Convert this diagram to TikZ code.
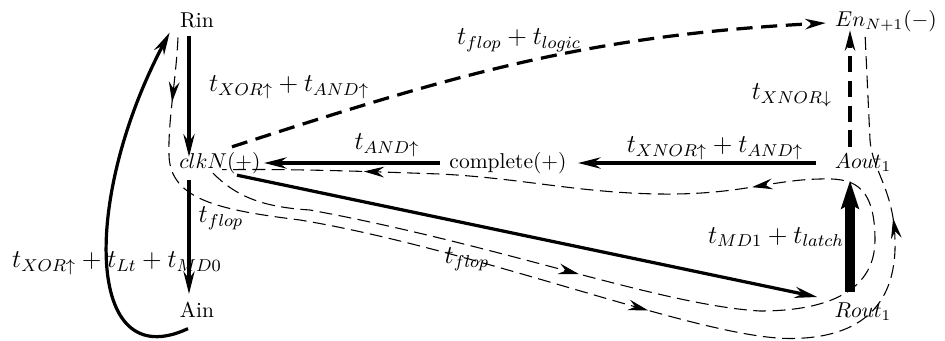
\documentclass[tikz,border=0pt]{standalone}
\usetikzlibrary{arrows.meta,decorations.markings}
\tikzset{
  >={Stealth[length=9.5pt,width=5pt,inset=3.3pt]},
  sig/.style={inner sep=0pt},
  delay/.style={inner sep=0pt,font=\large},
  hard/.style={line width=1.5pt,-{Stealth[length=10.5pt,width=5.2pt,inset=3.5pt]}},
  heavy/.style={line width=5pt,-{Stealth[length=13pt,width=8pt,inset=2pt]}},
  enable/.style={line width=1.5pt,dash pattern=on 7.5pt off 4pt,-{Stealth[length=9.5pt,width=4.8pt,inset=3pt]}},
  trace/.style={line width=0.5pt,dash pattern=on 6pt off 3pt},
  flowarrow/.style={postaction={decorate,decoration={markings,mark=at position #1 with {\arrow{>}}}}}
}
\begin{document}
\begin{tikzpicture}[x=0.465pt,y=0.465pt]
\useasboundingbox (0,0) rectangle (945,340);
% signals
\node[sig] (Rin) at (197,320) {Rin};
\node[sig] (clk) at (220,177) {$clkN(+)$};
\node[sig] (Ain) at (197,30) {Ain};
\node[sig] (done) at (508,177) {complete(+)};
\node[sig] (Aout) at (863,177) {$Aout_1$};
\node[sig] (Rout) at (863,28) {$Rout_1$};
\node[sig] (En) at (886,319) {$En_{N+1}(-)$};
% waypoints of the two traced cycles
\coordinate (o1) at (169,185);
\coordinate (o2) at (300,120);
\coordinate (o3) at (790,1.5);
\coordinate (o4) at (895,100);
\coordinate (o5) at (870,200);
\coordinate (i1) at (310,130);
\coordinate (i2) at (760,29);
\coordinate (i3) at (875,100);
\coordinate (i4) at (820,161);
\coordinate (i5) at (660,146);
\coordinate (i6) at (440,166);
% transitions
\draw[hard] ([shift={(-8,-8)}]Rin.south) -- ([shift={(-31,-5)}]clk.north);
\draw[hard] ([shift={(-31,-6)}]clk.south) -- ([shift={(-8,8)}]Ain.north);
\draw[hard] ([shift={(-9.5,0)}]done.west) -- ([shift={(3,0)}]clk.east);
\draw[hard] ([shift={(-18,0)}]Aout.west) -- ([shift={(11,0)}]done.east);
\draw[hard] ([shift={(17,-1)}]clk.south) -- ([shift={(-17,15)}]Rout.west);
\draw[heavy] ([shift={(-13,11)}]Rout.north) -- ([shift={(-13,-8)}]Aout.south);
\draw[hard] ([shift={(-9,-10.5)}]Ain.south) .. controls +(205:115) and +(242:185) .. ([shift={(-10,-4.5)}]Rin.south west);
\draw[enable] ([shift={(-13,7)}]Aout.north) -- ([shift={(-36,2)}]En.south);
\draw[enable] ([shift={(12,5)}]clk.north) to[out=18,in=183,looseness=1] ([shift={(-9,-2)}]En.west);
% traced cycles
\draw[trace,flowarrow=0.056,flowarrow=0.55,flowarrow=0.837]
  ([shift={(-19,-9.5)}]Rin.south) .. controls +(-2,-43) and +(-1,35) .. (o1)
  .. controls +(1,-45) and +(-80,10) .. (o2)
  .. controls +(180,-30) and +(-90,0) .. (o3)
  .. controls +(65,0) and +(2,-70) .. (o4)
  .. controls +(-1,50) and +(2,-30) .. (o5)
  -- ([shift={(-21,-1)}]En.south);
\draw[trace,flowarrow=0.27,flowarrow=0.625,flowarrow=0.90]
  ([shift={(-7,1)}]clk.south) .. controls +(22,-22) and +(-50,3) .. (i1)
  .. controls +(190,-35) and +(-100,6) .. (i2)
  .. controls +(60,0) and +(0,-55) .. (i3)
  .. controls +(0,58) and +(30,1) .. (i4)
  .. controls +(-50,-1) and +(80,-1) .. (i5)
  .. controls +(-80,1) and +(80,-4) .. (i6)
  .. controls +(-60,2) and +(78,1) .. ([shift={(2,4.5)}]clk.south);
% delays
\node[delay] (dRinClk) at (289,253) {$t_{XOR\uparrow}+t_{AND\uparrow}$};
\node[delay] (dClkEn) at (519,300) {$t_{flop}+t_{logic}$};
\node[delay] (dDoneClk) at (387,195) {$t_{AND\uparrow}$};
\node[delay] (dAoutDone) at (715,192) {$t_{XNOR\uparrow}+t_{AND\uparrow}$};
\node[delay] (dAoutEn) at (792,245) {$t_{XNOR\downarrow}$};
\node[delay] (dRoutAout) at (776,103) {$t_{MD1}+t_{latch}$};
\node[delay] (dClkAin) at (221,122) {$t_{flop}$};
\node[delay] (dClkRout) at (467,81) {$t_{flop}$};
\node[delay] (dAinRin) at (117,77) {$t_{XOR\uparrow}+t_{Lt}+t_{MD0}$};
\end{tikzpicture}
\end{document}
